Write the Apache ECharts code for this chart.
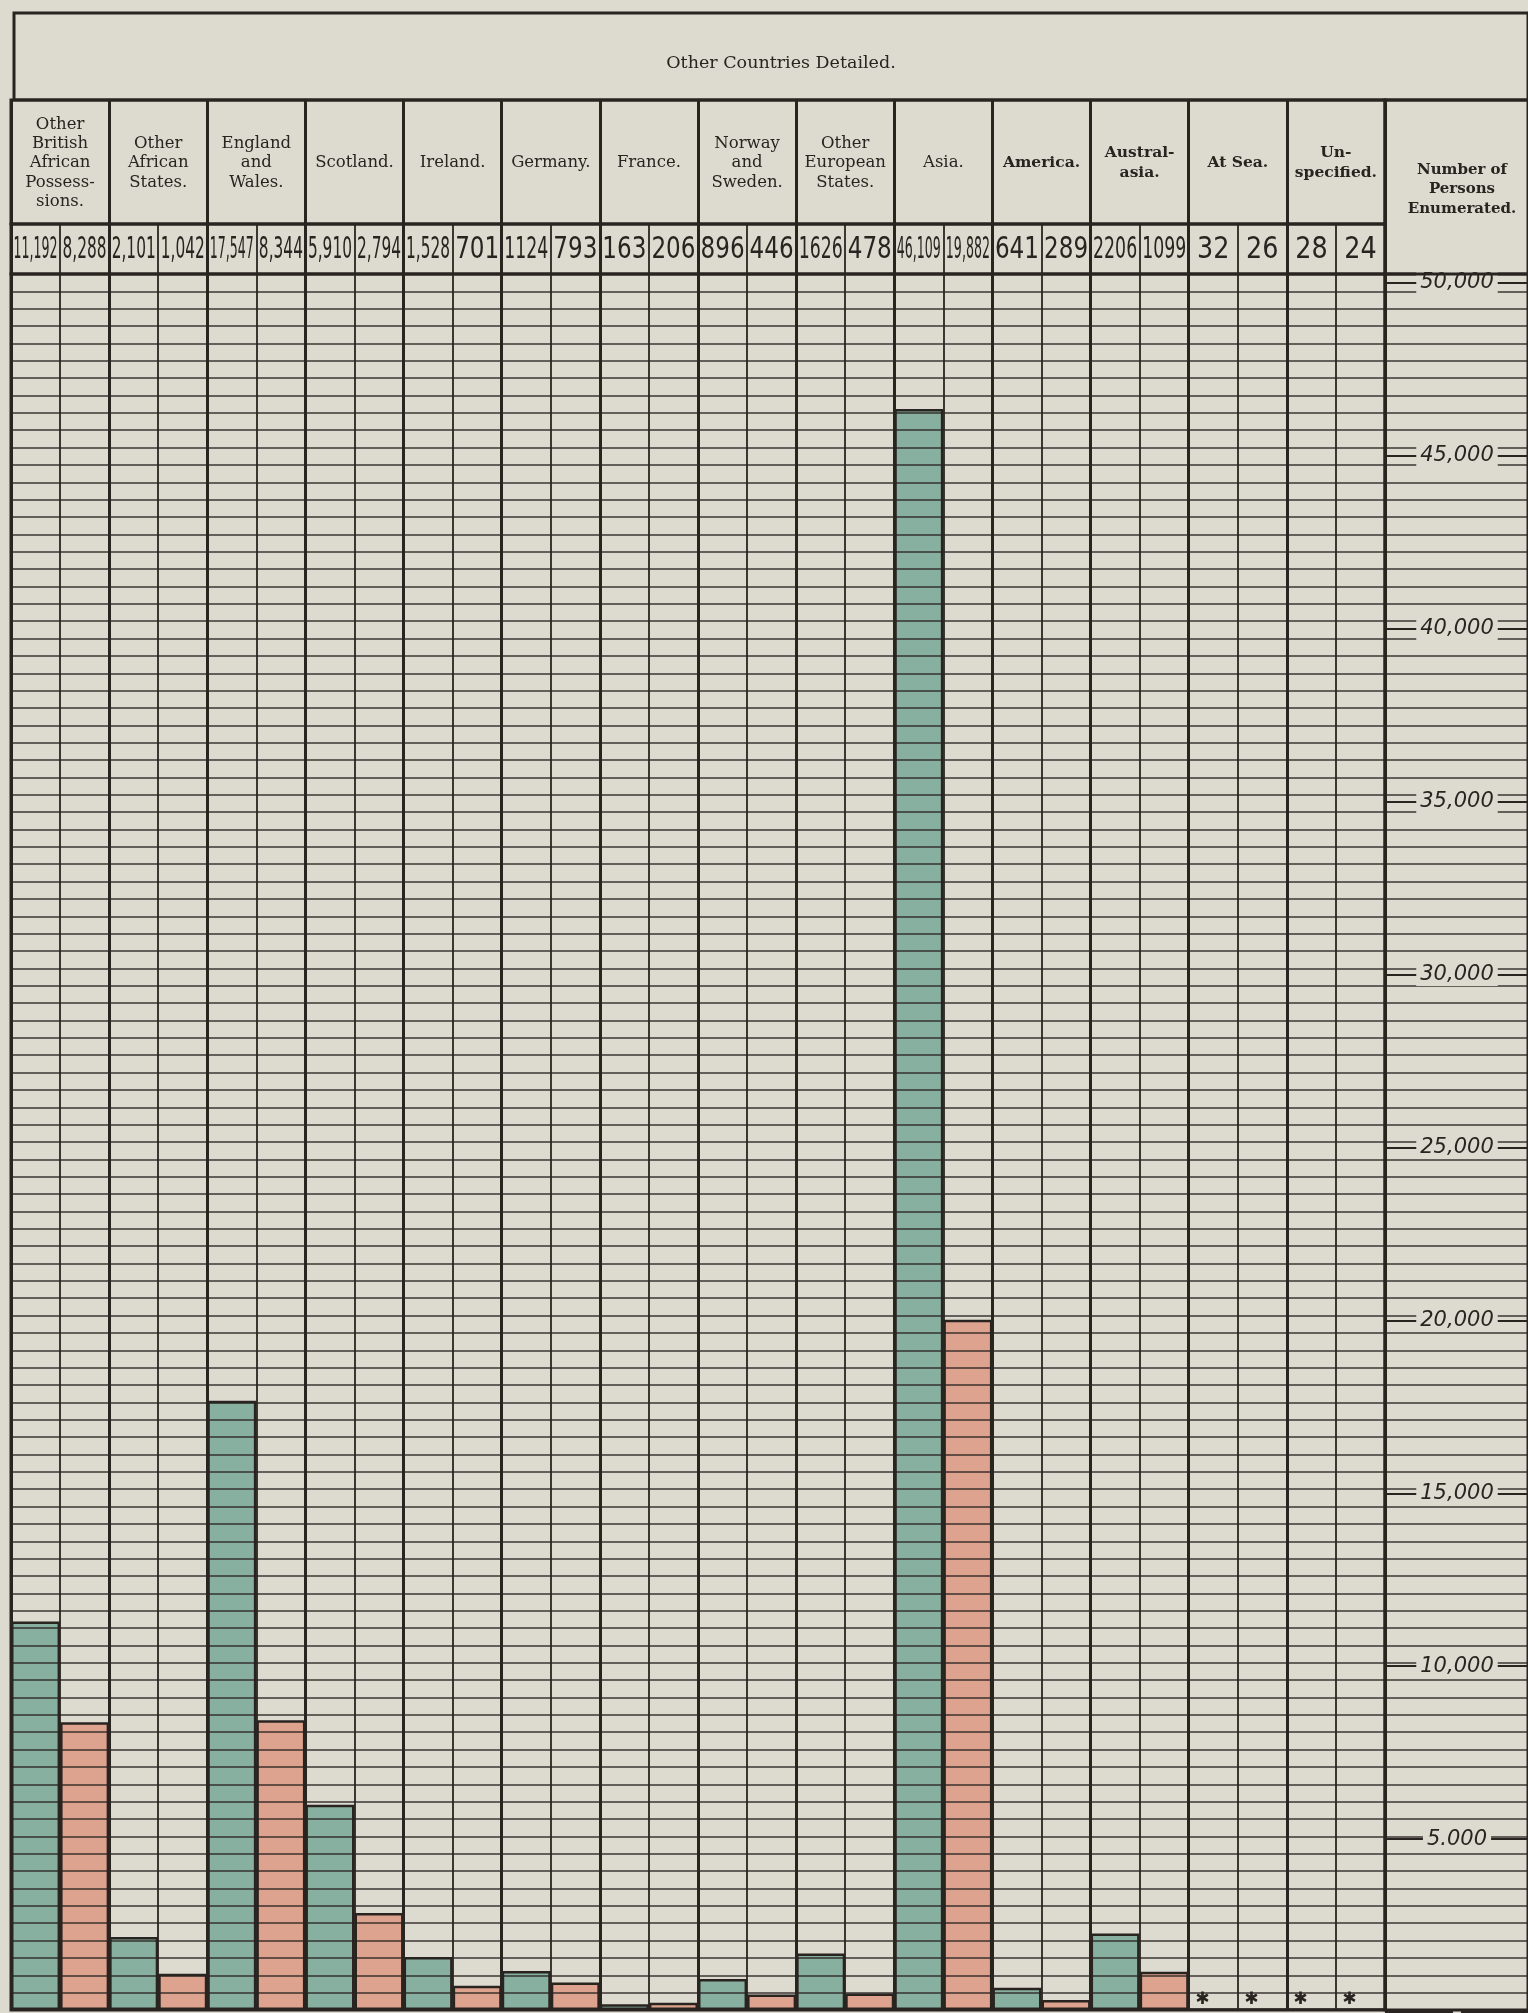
<!DOCTYPE html>
<html>
<head>
<meta charset="utf-8">
<script src="https://cdn.jsdelivr.net/npm/echarts@6/dist/echarts.min.js"></script>
<style>
html, body { margin: 0; padding: 0; background: #dddbd0; }
#container { width: 1528px; height: 2013px; }
</style>
</head>
<body>
<div id="container"></div>
<script>
// birthplace groups, persons enumerated (males / females)
var groups = ['Other\nBritish\nAfrican\nPossess-\nsions.', 'Other\nAfrican\nStates.', 'England\nand\nWales.',
    'Scotland.', 'Ireland.', 'Germany.', 'France.', 'Norway\nand\nSweden.', 'Other\nEuropean\nStates.',
    'Asia.', 'America.', 'Austral-\nasia.', 'At Sea.', 'Un-\nspecified.'];
var males = [11192, 2101, 17547, 5910, 1528, 1124, 163, 896, 1626, 46109, 641, 2206, 32, 28];
var females = [8288, 1042, 8344, 2794, 701, 793, 206, 446, 478, 19882, 289, 1099, 26, 24];
var maleText = ['11,192', '2,101', '17,547', '5,910', '1,528', '1124', '163', '896', '1626', '46,109', '641', '2206', '32', '28'];
var femaleText = ['8,288', '1,042', '8,344', '2,794', '701', '793', '206', '446', '478', '19,882', '289', '1099', '26', '24'];
var tickLabels = ['5.000', '10,000', '15,000', '20,000', '25,000', '30,000', '35,000', '40,000', '45,000', '50,000'];

var ink = '#2a2421';
var paper = '#dddbd0';
var green = '#88b0a0';
var pink = '#dea38e';

var W = 1528, H = 2013;
var LEFT = 11, PANEL = 1385;
var TITLE_TOP = 13, NAME_TOP = 100, NUM_TOP = 224, PLOT_TOP = 274, ZERO = 2010;

var container = document.getElementById('container');
var charts = echarts.init(container);

// each group gets two half columns: males then females
var halfText = [];
var maleData = [];
var femaleData = [];
function tinyMark(v) {
    return {
        value: v,
        label: { show: true, formatter: '\u2731', position: 'top', distance: 0, offset: [-11, 0],
            fontSize: 17, color: ink, fontFamily: 'DejaVu Sans' }
    };
}
for (var i = 0; i < groups.length; i++) {
    halfText.push(maleText[i], femaleText[i]);
    maleData.push(males[i] < 100 ? tinyMark(males[i]) : males[i], '-');
    femaleData.push('-', females[i] < 100 ? tinyMark(females[i]) : females[i]);
}

function cellGrid(left, right, top, bottom, z) {
    return { left: left, right: right, top: top, bottom: bottom, show: true,
        borderColor: ink, borderWidth: 3, backgroundColor: 'transparent', z: z || 0 };
}
function hiddenAxis(gi) {
    return { gridIndex: gi, type: 'value', min: 0, max: 1, show: false, splitLine: { show: false } };
}
function catLines(gi, data, width, z) {
    return { gridIndex: gi, type: 'category', data: data, position: 'top',
        axisLine: { show: false }, axisTick: { show: false }, axisLabel: { show: false },
        splitLine: { show: true, lineStyle: { color: ink, width: width } }, z: z };
}

var option = {
    backgroundColor: paper,
    animation: false,
    title: [
        { text: 'Other Countries Detailed.', left: 776, top: 49, textAlign: 'center',
          textStyle: { fontFamily: 'DejaVu Serif', fontSize: 17.5, fontWeight: 'normal', color: ink } },
        { text: 'Number of\nPersons\nEnumerated.', left: 1457, top: 155, textAlign: 'center',
          textStyle: { fontFamily: 'DejaVu Serif', fontSize: 15, fontWeight: 'bold', lineHeight: 19.5, color: ink } }
    ],
    grid: [
        cellGrid(LEFT, W - PANEL, PLOT_TOP, H - ZERO, 6),
        cellGrid(PANEL, -20, PLOT_TOP, H - ZERO, 6),
        { left: PANEL, right: -20, top: PLOT_TOP + 9, bottom: H - ZERO - 9 },
        cellGrid(LEFT, W - PANEL, NAME_TOP, H - NUM_TOP),
        cellGrid(LEFT, W - PANEL, NUM_TOP, H - PLOT_TOP),
        cellGrid(LEFT + 3, -20, TITLE_TOP, H - NAME_TOP),
        cellGrid(PANEL, -20, NAME_TOP, H - PLOT_TOP)
    ],
    xAxis: [
        catLines(0, halfText, 1.8, 4),
        catLines(0, groups, 3, 5),
        hiddenAxis(1),
        hiddenAxis(2),
        {
            gridIndex: 3, type: 'category', data: groups, position: 'top',
            axisLine: { show: false }, axisTick: { show: false },
            axisLabel: {
                inside: true, margin: 63, interval: 0, verticalAlign: 'middle', align: 'center',
                formatter: function (v, idx) { return idx >= 10 ? '{b|' + v + '}' : v; },
                fontFamily: 'DejaVu Serif', fontSize: 16.5, lineHeight: 19.3, color: ink,
                rich: { b: { fontFamily: 'DejaVu Serif', fontSize: 15.5, lineHeight: 19.3, fontWeight: 'bold', color: ink } }
            },
            splitLine: { show: true, lineStyle: { color: ink, width: 3 } }
        },
        catLines(4, halfText, 1.8, 4),
        catLines(4, groups, 3, 5),
        hiddenAxis(5),
        hiddenAxis(6)
    ],
    yAxis: [
        {
            gridIndex: 0, type: 'value', min: 0, max: 50000, interval: 500, z: 4,
            axisLine: { show: false }, axisTick: { show: false }, axisLabel: { show: false },
            splitLine: { show: true, lineStyle: { color: ink, width: 1.7, opacity: 0.9 } }
        },
        {
            gridIndex: 1, type: 'value', min: 0, max: 50000, interval: 500, z: 4,
            axisLine: { show: false }, axisTick: { show: false }, axisLabel: { show: false },
            splitLine: { show: true, lineStyle: { color: ink, width: 1.7, opacity: 0.9 } }
        },
        {
            gridIndex: 2, type: 'value', min: 0, max: 50000, interval: 5000, z: 5,
            axisLine: { show: false }, axisTick: { show: false },
            axisLabel: {
                inside: true, margin: 72, align: 'center', verticalAlign: 'middle',
                formatter: function (v) { return v > 0 ? tickLabels[v / 5000 - 1] : ''; },
                fontFamily: 'DejaVu Sans', fontStyle: 'italic', fontSize: 21, color: ink,
                backgroundColor: paper, padding: [1, 4]
            },
            splitLine: { show: true, lineStyle: { color: ink, width: 2.2 } }
        },
        hiddenAxis(3),
        hiddenAxis(4),
        hiddenAxis(5),
        hiddenAxis(6)
    ],
    series: [
        {
            name: 'Males', type: 'bar', xAxisIndex: 0, yAxisIndex: 0,
            data: maleData, barWidth: '100%', barGap: '-100%',
            itemStyle: { color: green, borderColor: ink, borderWidth: 2.5 }
        },
        {
            name: 'Females', type: 'bar', xAxisIndex: 0, yAxisIndex: 0,
            data: femaleData, barWidth: '100%', barGap: '-100%',
            itemStyle: { color: pink, borderColor: ink, borderWidth: 2.5 }
        }
    ]
};

charts.setOption(option, true);

/*
 * the printed figures are tall condensed digits: squeeze each one into its half column
 */
var numFont = '30px "DejaVu Sans", sans-serif';
var measure = document.createElement('canvas').getContext('2d');
measure.font = numFont;
var rowY = charts.convertToPixel({ yAxisIndex: 4 }, 0.5);
var cellW = charts.convertToPixel({ xAxisIndex: 5 }, 1) - charts.convertToPixel({ xAxisIndex: 5 }, 0);
var figures = halfText.map(function (t, idx) {
    var w = measure.measureText(t).width;
    var sx = Math.min(0.85, (cellW - 5) / w);
    return {
        type: 'text',
        x: charts.convertToPixel({ xAxisIndex: 5 }, idx),
        y: rowY + 1,
        scaleX: sx,
        z: 10,
        style: { text: t, font: numFont, fill: ink, textAlign: 'center', textVerticalAlign: 'middle' }
    };
});
charts.setOption({ graphic: figures });
</script>
</body>
</html>
